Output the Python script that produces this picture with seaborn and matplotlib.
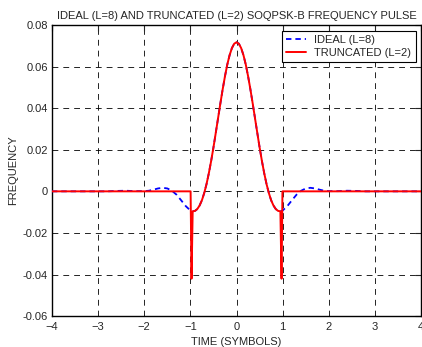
import pandas as pd
import seaborn as sns
import matplotlib.pyplot as plt

# values
time_ideal = [-4, -2.8, -2.6, -2.4, -2.2, -2.0, -1.9, -1.8, -1.7, -1.6, -1.5, -1.4, -1.3, -1.2, -1.1,
              -1.0, -0.95, -0.9, -0.85, -0.8, -0.75, -0.7, -0.65, -0.6, -0.55, -0.5, -0.45, -0.4,
              -0.35, -0.3, -0.25, -0.2, -0.15, -0.1, -0.05, 0.0,
              0.05, 0.1, 0.15, 0.2, 0.25, 0.3, 0.35, 0.4, 0.45, 0.5, 0.55, 0.6, 0.65, 0.7, 0.75,
              0.8, 0.85, 0.9, 0.95, 1.0, 1.1, 1.2, 1.3, 1.4, 1.5, 1.6, 1.7, 1.8, 1.9, 2.0, 2.2,
              2.4, 2.6, 2.8, 4]
freq_ideal = [0.0, 0.0, 0.0002, 0.0003, 0.0001, 0.0001, 0.0003, 0.0008, 0.0014, 0.0017, 0.0014,
              0.0003, -0.0016, -0.0043, -0.0071,
              -0.0092, -0.0096, -0.0094, -0.0085, -0.0068, -0.0043, -0.0008, 0.0035, 0.0087,
              0.0146, 0.0211, 0.0281, 0.0352, 0.0423, 0.0491, 0.0554, 0.0610, 0.0655, 0.0689,
              0.0710, 0.0717,
              0.0710, 0.0689, 0.0655, 0.0610, 0.0554, 0.0491, 0.0423, 0.0352, 0.0281, 0.0211,
              0.0146, 0.0087, 0.0035, -0.0008, -0.0043, -0.0068, -0.0085, -0.0094, -0.0096,
              -0.0092, -0.0071, -0.0043, -0.0016, 0.0003, 0.0014, 0.0017, 0.0014, 0.0008, 0.0003,
              0.0001, 0.0001, 0.0003, 0.0002, 0.0, 0.0]

time_trunc = [-4, -0.995, -0.975, -0.95, -0.9, -0.85, -0.8, -0.75, -0.7, -0.65, -0.6, -0.55, -0.5,
              -0.45, -0.4, -0.35, -0.3, -0.25, -0.2, -0.15, -0.1, -0.05, 0.0,
              0.05, 0.1, 0.15, 0.2, 0.25, 0.3, 0.35, 0.4, 0.45, 0.5, 0.55, 0.6, 0.65, 0.7, 0.75,
              0.8, 0.85, 0.9, 0.95, 0.975, 0.995, 4]
freq_trunc = [0.0, 0.0, -0.042, -0.0096, -0.0094, -0.0085, -0.0068, -0.0043, -0.0008, 0.0035,
              0.0087, 0.0146, 0.0211, 0.0281, 0.0352, 0.0423, 0.0491, 0.0554, 0.0610, 0.0655,
              0.0689, 0.0710, 0.0717,
              0.0710, 0.0689, 0.0655, 0.0610, 0.0554, 0.0491, 0.0423, 0.0352, 0.0281, 0.0211,
              0.0146, 0.0087, 0.0035, -0.0008, -0.0043, -0.0068, -0.0085, -0.0094, -0.0096,
              -0.042, 0.0, 0.0]

df_ideal = pd.DataFrame({"t": time_ideal, "f": freq_ideal})
df_trunc = pd.DataFrame({"t": time_trunc, "f": freq_trunc})

sns.set_style("white")
plt.rcParams["font.family"] = ["Liberation Sans", "DejaVu Sans"]
plt.rcParams["font.size"] = 8

fig = plt.figure(figsize=(4.22, 3.47), dpi=100)
ax = fig.add_axes([0.123, 0.089, 0.875, 0.839])

sns.lineplot(data=df_ideal, x="t", y="f", ax=ax, color="blue", lw=1.3,
             estimator=None, sort=False, label="IDEAL (L=8)", dashes=False, zorder=3)
ax.lines[-1].set_dashes((3, 2.2))
sns.lineplot(data=df_trunc, x="t", y="f", ax=ax, color="red", lw=1.4,
             estimator=None, sort=False, label="TRUNCATED (L=2)", zorder=4)

ax.set_xlim(-4, 4)
ax.set_ylim(-0.06, 0.08)
ax.set_xticks(range(-4, 5))
ax.set_yticks([-0.06, -0.04, -0.02, 0, 0.02, 0.04, 0.06, 0.08])
ax.set_yticklabels(["-0.06", "-0.04", "-0.02", "0", "0.02", "0.04", "0.06", "0.08"])
ax.grid(True, color="black", linestyle=(0, (7, 6)), lw=0.6)
ax.tick_params(direction="in", length=4, width=0.8, top=True, right=True, labelsize=8)
ax.tick_params(axis="x", pad=4.5)
ax.tick_params(axis="y", pad=3)
for s in ax.spines.values():
    s.set_color("black")
    s.set_linewidth(1.0)

ax.set_title("IDEAL (L=8) AND TRUNCATED (L=2) SOQPSK-B FREQUENCY PULSE", fontsize=8, pad=4.5)
ax.set_xlabel("TIME (SYMBOLS)", fontsize=8, labelpad=3)
ax.set_ylabel("FREQUENCY", fontsize=8, labelpad=3)

leg = ax.legend(loc="upper right", fontsize=8, fancybox=False, framealpha=1,
                edgecolor="black", borderaxespad=0.5, handlelength=1.8, handletextpad=0.7,
                labelspacing=0.25, borderpad=0.4)
leg.get_frame().set_linewidth(0.8)

fig.savefig("out.png", dpi=100)
